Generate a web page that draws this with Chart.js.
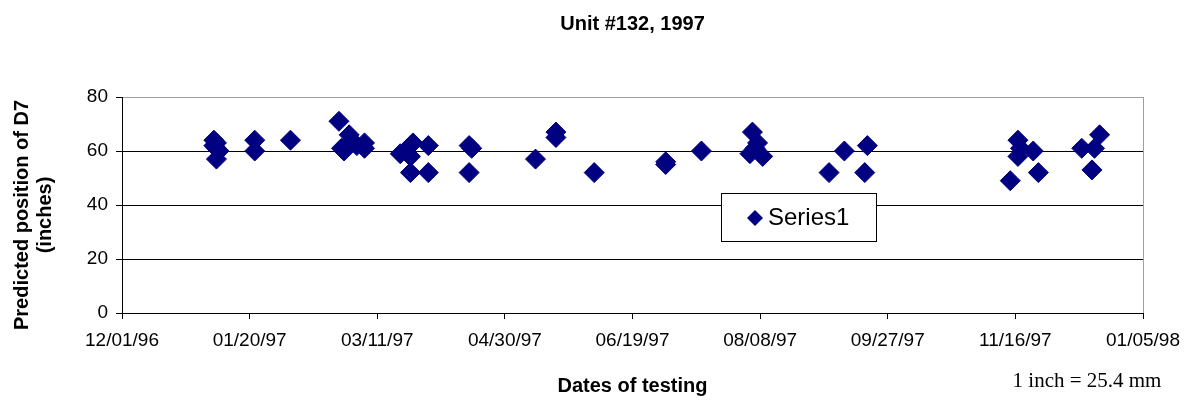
<!DOCTYPE html>
<html>
<head>
<meta charset="utf-8">
<title>Unit #132, 1997</title>
<script src="https://cdn.jsdelivr.net/npm/chart.js@4/dist/chart.umd.min.js"></script>
<style>
  html, body { margin: 0; padding: 0; background: #fff; }
  #wrap { width: 1196px; height: 400px; }
</style>
</head>
<body>
<div id="wrap"><canvas id="unitChart" width="1196" height="400"></canvas></div>
<script>
// test dates and predicted D7 positions (inches)
var testDates = [
  "1997-01-06", "1997-01-07", "1997-01-07", "1997-01-08", "1997-01-06", "1997-01-07",
  "1997-01-22", "1997-01-22", "1997-02-05",
  "1997-02-24", "1997-02-25", "1997-02-26", "1997-02-28", "1997-03-01", "1997-03-03",
  "1997-03-06", "1997-03-06",
  "1997-03-20", "1997-03-22", "1997-03-24", "1997-03-25", "1997-03-24", "1997-03-24",
  "1997-03-31", "1997-03-31", "1997-04-16", "1997-04-17", "1997-04-16",
  "1997-05-12", "1997-05-20", "1997-05-20", "1997-06-04",
  "1997-07-02", "1997-07-02", "1997-07-16",
  "1997-08-05", "1997-08-07", "1997-08-04", "1997-08-09", "1997-08-06",
  "1997-09-04", "1997-09-10", "1997-09-19", "1997-09-18",
  "1997-11-14", "1997-11-17", "1997-11-18", "1997-11-17", "1997-11-23", "1997-11-25",
  "1997-12-12", "1997-12-19", "1997-12-17", "1997-12-16"
];
var positions = [
  64, 63, 61, 60, 62, 57,
  64, 60, 64,
  71, 61, 60, 66, 64, 62,
  63, 61,
  59, 60, 62, 63, 58, 52,
  62, 52, 62, 61, 52,
  57, 67, 65, 52,
  56, 55, 60,
  67, 63, 59, 58, 61,
  52, 60, 62, 52,
  49, 64, 61, 58, 60, 52,
  61, 66, 61, 53
];
var yTicks = [0, 20, 40, 60, 80];
var seriesName = "Series1";

var DAY = 86400000;
var startDay = Date.UTC(1996, 11, 1);   // 12/01/96, left end of the axis
var axisDays = 400;                      // ends at 01/05/98

function dayOffset(s) {
  var p = s.split("-");
  return (Date.UTC(+p[0], +p[1] - 1, +p[2]) - startDay) / DAY;
}
function pad(n) { return (n < 10 ? "0" : "") + n; }
function fmtDate(v) {
  var d = new Date(startDay + v * DAY);
  return pad(d.getUTCMonth() + 1) + "/" + pad(d.getUTCDate()) + "/" + pad(d.getUTCFullYear() % 100);
}

var points = testDates.map(function (s, i) {
  return { x: dayOffset(s), y: positions[i] };
});

var navy = "#000080";
var sans = "'Liberation Sans', Arial, sans-serif";

// titles, note, right border and legend box drawn on top
var decorations = {
  id: "decorations",
  afterDraw: function (chart) {
    var ctx = chart.ctx, a = chart.chartArea;
    var cx = (a.left + a.right) / 2;
    ctx.save();

    ctx.strokeStyle = "#a0a0a0";
    ctx.lineWidth = 1;
    ctx.beginPath();
    ctx.moveTo(Math.round(a.right) + 0.5, a.top);
    ctx.lineTo(Math.round(a.right) + 0.5, a.bottom);
    ctx.stroke();

    ctx.fillStyle = "#000";
    ctx.textAlign = "center";
    ctx.textBaseline = "middle";
    ctx.font = "bold 20px " + sans;
    ctx.fillText("Unit #132, 1997", cx, 24);
    ctx.fillText("Dates of testing", cx, 386);

    ctx.save();
    ctx.translate(22, (a.top + a.bottom) / 2 + 10);
    ctx.rotate(-Math.PI / 2);
    ctx.fillText("Predicted position of D7", 0, 0);
    ctx.fillText("(inches)", 0, 23);
    ctx.restore();

    ctx.font = "21px 'Liberation Serif', 'Times New Roman', serif";
    ctx.fillText("1 inch = 25.4 mm", 1087, 381);

    // legend
    var lx = 721.5, ly = 193.5, lw = 155, lh = 48;
    ctx.fillStyle = "#fff";
    ctx.fillRect(lx, ly, lw, lh);
    ctx.strokeStyle = "#000";
    ctx.strokeRect(lx, ly, lw, lh);
    ctx.fillStyle = navy;
    ctx.beginPath();
    ctx.moveTo(747, 218);
    ctx.lineTo(755, 210);
    ctx.lineTo(763, 218);
    ctx.lineTo(755, 226);
    ctx.closePath();
    ctx.fill();
    ctx.fillStyle = "#000";
    ctx.textAlign = "left";
    ctx.font = "24px " + sans;
    ctx.fillText(seriesName, 768, 218);

    ctx.restore();
  }
};

var ctx = document.getElementById("unitChart").getContext("2d");
var chart = new Chart(ctx, {
  type: "scatter",
  data: {
    datasets: [{
      label: seriesName,
      data: points,
      pointStyle: "rectRot",
      pointRadius: 10,
      pointHoverRadius: 10,
      backgroundColor: navy,
      borderColor: navy,
      borderWidth: 1
    }]
  },
  options: {
    responsive: false,
    animation: false,
    devicePixelRatio: 1,
    layout: { padding: { top: 97, right: 53, left: 0, bottom: 0 } },
    plugins: {
      legend: { display: false },
      title: { display: false },
      tooltip: { enabled: false }
    },
    scales: {
      x: {
        type: "linear",
        min: 0,
        max: axisDays,
        afterFit: function (s) { s.height = 87; },
        afterBuildTicks: function (s) {
          s.ticks = [];
          for (var v = 0; v <= axisDays; v += 50) s.ticks.push({ value: v });
        },
        ticks: {
          color: "#000",
          font: { family: sans, size: 19 },
          padding: 10,
          maxRotation: 0,
          autoSkip: false,
          callback: function (v) { return fmtDate(v); }
        },
        grid: {
          drawOnChartArea: false,
          drawTicks: true,
          tickLength: 6,
          color: "#000",
          tickColor: "#000"
        },
        border: { display: true, color: "#000", width: 1 }
      },
      y: {
        min: 0,
        max: 80,
        afterFit: function (s) { s.width = 122; },
        afterBuildTicks: function (s) {
          s.ticks = yTicks.map(function (v) { return { value: v }; });
        },
        ticks: {
          color: "#000",
          font: { family: sans, size: 19 },
          padding: 8
        },
        grid: {
          drawTicks: true,
          tickLength: 6,
          color: function (c) { return c.tick && c.tick.value === 80 ? "#a0a0a0" : "#000"; },
          tickColor: "#000",
          lineWidth: 1
        },
        border: { display: true, color: "#000", width: 1 }
      }
    }
  },
  plugins: [decorations]
});
</script>
</body>
</html>
